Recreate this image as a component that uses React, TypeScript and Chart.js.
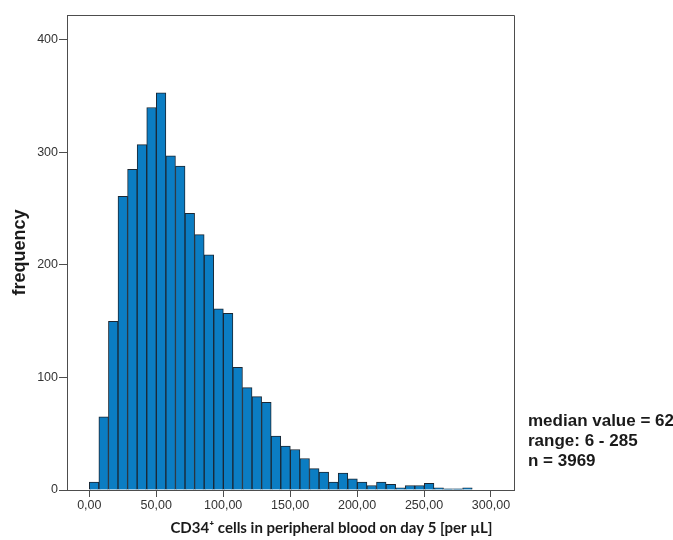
import React, { useEffect, useRef } from 'react';
import { Chart, registerables } from 'chart.js';

Chart.register(...registerables);

// Histogram of CD34+ cells (per µL) on day 5
const binWidth = 7.15;
const counts = [
  7, 65, 150, 261, 285, 307, 340, 353, 297, 288,
  246, 227, 209, 161, 157, 109, 91, 83, 78, 48,
  39, 36, 28, 19, 16, 7, 15, 10, 7, 4,
  7, 5, 2, 4, 4, 6, 2, 1, 1, 2,
];
const xTicks = [0, 50, 100, 150, 200, 250, 300];
const yTicks = [0, 100, 200, 300, 400];
const xTitle = 'CD34\u207A cells in peripheral blood on day 5 [per \u00B5L]';
const yTitle = 'frequency';
const statsLines = ['median value = 62', 'range: 6 - 285', 'n = 3969'];

const frameColor = '#4d4d4d';

const overlayPlugin = {
  id: 'overlay',
  afterDraw(chart: any) {
    const { ctx, chartArea } = chart;
    const { left, right, top, bottom } = chartArea;
    ctx.save();
    // top and right frame lines
    ctx.strokeStyle = frameColor;
    ctx.lineWidth = 1;
    ctx.beginPath();
    ctx.moveTo(left, top + 0.5);
    ctx.lineTo(right + 0.5, top + 0.5);
    ctx.lineTo(right + 0.5, bottom);
    ctx.stroke();

    // x title (fitted to width)
    ctx.fillStyle = '#1a1a1a';
    ctx.font = 'bold 15px Lato, "Noto Sans", sans-serif';
    ctx.textBaseline = 'middle';
    ctx.textAlign = 'center';
    const targetW = 327;
    const w = ctx.measureText(xTitle).width;
    const sx = Math.min(1, targetW / w);
    ctx.save();
    ctx.translate(331.5, 528);
    ctx.scale(sx, 1);
    ctx.fillText(xTitle, 0, 0);
    ctx.restore();

    // statistics text
    ctx.font = 'bold 17px "Liberation Sans", Arial, sans-serif';
    ctx.textAlign = 'left';
    statsLines.forEach((line, i) => {
      ctx.fillText(line, right + 14, 421 + i * 20);
    });
    ctx.restore();
  },
};

export default function App() {
  const canvasRef = useRef<HTMLCanvasElement | null>(null);

  useEffect(() => {
    if (!canvasRef.current) return;
    const data = counts.map((c, i) => ({ x: (i + 0.5) * binWidth, y: c }));
    const chart = new Chart(canvasRef.current, {
      type: 'bar',
      data: {
        datasets: [
          {
            data: data as any,
            backgroundColor: '#0b7dc3',
            borderColor: '#1b2733',
            borderWidth: 1,
            barPercentage: 1,
            categoryPercentage: 1,
          },
        ],
      },
      options: {
        responsive: false,
        animation: false,
        events: [],
        layout: { padding: { top: 15, right: 159, left: 0, bottom: 0 } },
        plugins: {
          legend: { display: false },
          tooltip: { enabled: false },
        },
        scales: {
          x: {
            type: 'linear',
            min: -16.65,
            max: 317.2,
            offset: false,
            afterBuildTicks: (s: any) => {
              s.ticks = xTicks.map((v) => ({ value: v }));
            },
            afterFit: (s: any) => {
              s.height = 50;
            },
            grid: {
              display: true,
              drawOnChartArea: false,
              drawTicks: true,
              tickLength: 7,
              color: frameColor,
              offset: false,
            },
            border: { display: true, color: frameColor, width: 1 },
            ticks: {
              padding: 1,
              color: '#333',
              maxRotation: 0,
              autoSkip: false,
              font: { family: '"Liberation Sans", Arial, sans-serif', size: 12.5 },
              callback: (v: any) => Number(v).toFixed(2).replace('.', ','),
            },
          },
          y: {
            type: 'linear',
            min: 0,
            max: 422.2,
            afterBuildTicks: (s: any) => {
              s.ticks = yTicks.map((v) => ({ value: v }));
            },
            afterFit: (s: any) => {
              s.width = 67;
            },
            grid: {
              display: true,
              drawOnChartArea: false,
              drawTicks: true,
              tickLength: 8,
              color: frameColor,
            },
            border: { display: true, color: frameColor, width: 1 },
            ticks: {
              padding: 1,
              color: '#333',
              font: { family: '"Liberation Sans", Arial, sans-serif', size: 12.5 },
            },
            title: {
              display: true,
              text: yTitle,
              color: '#1a1a1a',
              font: { family: '"Liberation Sans", Arial, sans-serif', size: 18, weight: 'bold' },
              padding: { top: 9, bottom: 0 },
            },
          },
        },
      },
      plugins: [overlayPlugin],
    });
    return () => chart.destroy();
  }, []);

  return (
    <div style={{ position: 'absolute', left: 0, top: 0, width: 673, height: 540, background: '#fff' }}>
      <canvas ref={canvasRef} width={673} height={540} style={{ display: 'block' }} />
    </div>
  );
}
